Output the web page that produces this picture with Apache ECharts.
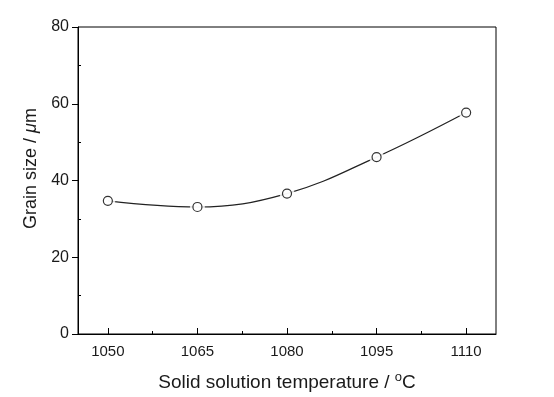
<!DOCTYPE html>
<html>
<head>
<meta charset="utf-8">
<script src="https://cdn.jsdelivr.net/npm/echarts@6/dist/echarts.min.js"></script>
<style>
  html, body { margin: 0; padding: 0; background: #fff; }
  #chart { width: 554px; height: 397px; }
</style>
</head>
<body>
<div id="chart"></div>
<script>
// solid solution temperature (°C) and grain size (µm)
var temperatures = [1050, 1065, 1080, 1095, 1110];
var grainSize = [34.7, 33.1, 36.6, 46.1, 57.7];
var xMajorTicks = [1050, 1065, 1080, 1095, 1110];
var xMinorTicks = [1057.5, 1072.5, 1087.5, 1102.5];
var yMinorTicks = [10, 30, 50, 70];

var points = temperatures.map(function (t, i) { return [t, grainSize[i]]; });

var font = 'Liberation Sans, Arial, sans-serif';
var chart = echarts.init(document.getElementById('chart'));

chart.setOption({
    animation: false,
    grid: {
        left: 78, right: 58, top: 27, bottom: 59,
        show: true, borderColor: '#000', borderWidth: 1
    },
    xAxis: [{
        type: 'value', min: 1045, max: 1115,
        axisLine: { lineStyle: { color: '#000', width: 1 } },
        axisTick: { inside: true, length: 6, customValues: xMajorTicks, lineStyle: { color: '#000' } },
        axisLabel: {
            customValues: xMajorTicks, color: '#1a1a1a', fontSize: 15, fontFamily: font, margin: 10,
            formatter: function (v) { return String(v); }
        },
        splitLine: { show: false },
        name: 'Solid solution temperature / {sup|o}C',
        nameLocation: 'middle',
        nameGap: 37,
        nameTextStyle: {
            color: '#1a1a1a', fontSize: 19, fontFamily: font,
            rich: { sup: { fontSize: 13, fontFamily: font, color: '#1a1a1a', verticalAlign: 'top', padding: [0, 0, 10, 0] } }
        }
    }, {
        type: 'value', min: 1045, max: 1115, position: 'bottom',
        axisLine: { show: false },
        axisTick: { inside: true, length: 3, customValues: xMinorTicks, lineStyle: { color: '#000' } },
        axisLabel: { show: false },
        splitLine: { show: false }
    }],
    yAxis: [{
        type: 'value', min: 0, max: 80, interval: 20,
        axisLine: { show: true, lineStyle: { color: '#000', width: 1 } },
        axisTick: { show: true, length: 6, lineStyle: { color: '#000' } },
        axisLabel: { color: '#1a1a1a', fontSize: 16, fontFamily: font, margin: 9 },
        splitLine: { show: false },
        name: 'Grain size / {it|μ}m',
        nameLocation: 'middle',
        nameGap: 36,
        nameTextStyle: {
            color: '#1a1a1a', fontSize: 18, fontFamily: font, padding: [0, 0, 0, 24],
            rich: { it: { fontSize: 18, fontStyle: 'italic', fontFamily: font, color: '#1a1a1a' } }
        }
    }, {
        type: 'value', min: 0, max: 80, position: 'left',
        axisLine: { show: false },
        axisTick: { show: true, inside: true, length: 3, customValues: yMinorTicks, lineStyle: { color: '#000' } },
        axisLabel: { show: false },
        splitLine: { show: false }
    }],
    series: [{
        type: 'line',
        data: points,
        smooth: 0.4,
        symbol: 'none',
        lineStyle: { color: '#222', width: 1.2 },
        z: 2
    }, {
        // white halo so the curve stops short of each marker
        type: 'scatter',
        data: points,
        symbolSize: 15,
        itemStyle: { color: '#fff' },
        z: 3
    }, {
        type: 'scatter',
        data: points,
        symbolSize: 9,
        itemStyle: { color: '#fff', borderColor: '#000', borderWidth: 1.2 },
        z: 4
    }]
});
</script>
</body>
</html>
